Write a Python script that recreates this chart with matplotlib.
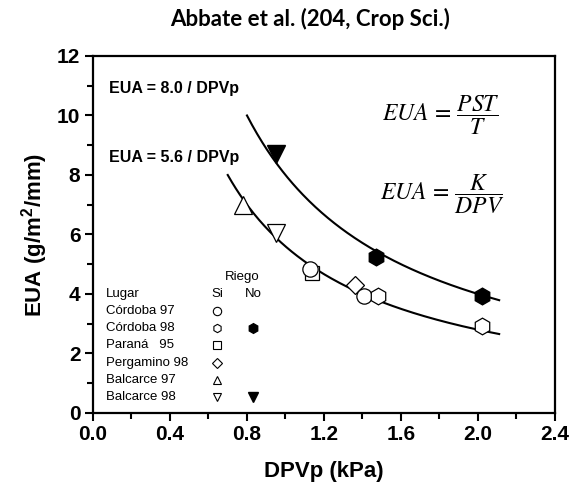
import numpy as np
import matplotlib
matplotlib.use("Agg")
import matplotlib.pyplot as plt

plt.rcParams['font.family'] = ['Liberation Sans', 'DejaVu Sans']
plt.rcParams['mathtext.fontset'] = 'stix'

# datos (DPVp kPa, EUA g/m2/mm)
si_circle_x = [1.125, 1.41]
si_circle_y = [4.84, 3.93]
si_hex_x = [1.48, 2.02]
si_hex_y = [3.93, 2.92]
no_hex_x = [1.47, 2.02]
no_hex_y = [5.25, 3.93]
si_square_x = [1.14]
si_square_y = [4.70]
si_diamond_x = [1.36]
si_diamond_y = [4.30]
si_tri_up_x = [0.78]
si_tri_up_y = [7.00]
si_tri_down_x = [0.95]
si_tri_down_y = [6.05]
no_tri_down_x = [0.95]
no_tri_down_y = [8.70]

k_no = 8.0
k_si = 5.6
curve_no_range = (0.80, 2.11)
curve_si_range = (0.70, 2.11)

lugares = ['Córdoba 97', 'Córdoba 98', 'Paraná   95', 'Pergamino 98', 'Balcarce 97', 'Balcarce 98']
leg_si = ['o', 'h', 's', 'D', '^', 'v']
leg_no = [None, 'h', None, None, None, 'v']

fig = plt.figure(figsize=(5.75, 4.92), dpi=100)
ax = fig.add_axes([0.1617, 0.1606, 0.8035, 0.7256])

x1 = np.linspace(*curve_no_range, 200)
ax.plot(x1, k_no / x1, color='black', lw=1.5, zorder=2)
x2 = np.linspace(*curve_si_range, 200)
ax.plot(x2, k_si / x2, color='black', lw=1.5, zorder=2)

ms = 11
ax.plot(si_square_x, si_square_y, 's', ms=ms - 1, mfc='white', mec='black', mew=0.9, zorder=3)
ax.plot(si_circle_x, si_circle_y, 'o', ms=ms, mfc='white', mec='black', mew=0.9, zorder=4)
ax.plot(si_diamond_x, si_diamond_y, 'D', ms=ms - 2, mfc='white', mec='black', mew=0.9, zorder=3)
ax.plot(si_hex_x, si_hex_y, 'h', ms=ms + 1, mfc='white', mec='black', mew=0.9, zorder=4)
ax.plot(no_hex_x, no_hex_y, 'h', ms=ms + 1, mfc='black', mec='black', zorder=4)
ax.plot(si_tri_up_x, si_tri_up_y, '^', ms=ms + 2, mfc='white', mec='black', mew=0.9, zorder=4)
ax.plot(si_tri_down_x, si_tri_down_y, 'v', ms=ms + 2, mfc='white', mec='black', mew=0.9, zorder=4)
ax.plot(no_tri_down_x, no_tri_down_y, 'v', ms=ms + 2, mfc='black', mec='black', zorder=4)

# leyenda manual
ax.text(0.776, 4.58, 'Riego', fontsize=9.5, ha='center', va='center')
ax.text(0.068, 4.0, 'Lugar', fontsize=9.5, va='center')
ax.text(0.645, 4.0, 'Si', fontsize=9.5, ha='center', va='center')
ax.text(0.833, 4.0, 'No', fontsize=9.5, ha='center', va='center')
rows_y = [3.43, 2.86, 2.29, 1.68, 1.11, 0.54]
for name, m_si, m_no, yy in zip(lugares, leg_si, leg_no, rows_y):
    ax.text(0.068, yy, name, fontsize=9.5, va='center')
    ax.plot([0.645], [yy], m_si, ms=6 if m_si != 'D' else 5.5, mfc='white', mec='black', mew=0.8)
    if m_no:
        ax.plot([0.833], [yy], m_no, ms=7, mfc='black', mec='black')

ax.text(0.083, 10.92, 'EUA = 8.0 / DPVp', fontsize=11.5, fontweight='bold', va='center')
ax.text(0.083, 8.6, 'EUA = 5.6 / DPVp', fontsize=11.5, fontweight='bold', va='center')
ax.text(1.50, 10.0, r'$EUA\,=\,\dfrac{PST}{T}$', fontsize=17, va='center')
ax.text(1.49, 7.36, r'$EUA\,=\,\dfrac{K}{DPV}$', fontsize=17, va='center')

ax.set_xlim(0, 2.4)
ax.set_ylim(0, 12)
ax.set_xticks(np.arange(0, 2.41, 0.4))
ax.set_xticks(np.arange(0.2, 2.4, 0.4), minor=True)
ax.set_yticks(np.arange(0, 13, 2))
ax.set_yticks(np.arange(1, 12, 2), minor=True)
ax.set_xticklabels([f'{v:.1f}' for v in np.arange(0, 2.41, 0.4)])
for s in ax.spines.values():
    s.set_linewidth(1.6)
ax.tick_params(which='major', direction='out', length=6, width=1.5, labelsize=15, pad=3)
ax.tick_params(which='minor', direction='out', length=4, width=1.5)
for lab in ax.get_xticklabels() + ax.get_yticklabels():
    lab.set_fontweight('bold')

ax.set_xlabel('DPVp (kPa)', fontsize=16, fontweight='bold', labelpad=12)
ax.set_ylabel('EUA (g/m$^\\mathregular{2}$/mm)', fontsize=16, fontweight='bold', labelpad=5)
fig.text(0.539, 0.962, 'Abbate et al. (204, Crop Sci.)', fontsize=16, fontweight='bold',
         ha='center', va='center', family=['Lato', 'DejaVu Sans'])

fig.savefig('out.png', dpi=100)
